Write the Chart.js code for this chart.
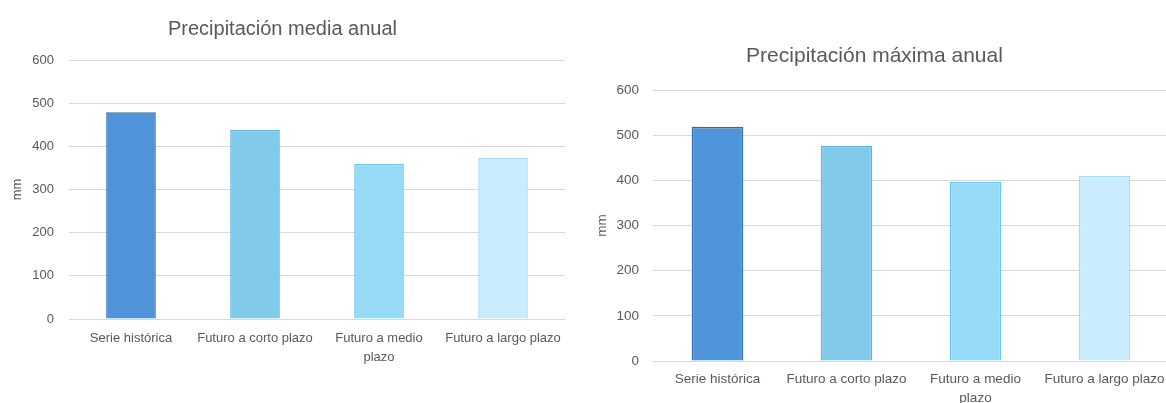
<!DOCTYPE html>
<html>
<head>
<meta charset="utf-8">
<script src="https://cdn.jsdelivr.net/npm/chart.js@4.4.1/dist/chart.umd.min.js"></script>
<style>
  html, body { margin:0; padding:0; background:#fff; overflow:hidden; }
  .box { position:absolute; top:0; height:403px; }
  #boxA { left:0; width:580px; }
  #boxB { left:580px; width:592px; }
</style>
</head>
<body>
<div class="box" id="boxA"><canvas id="chartA"></canvas></div>
<div class="box" id="boxB"><canvas id="chartB"></canvas></div>
<script>
// data
const categories = ['Serie histórica', 'Futuro a corto plazo', ['Futuro a medio', 'plazo'], 'Futuro a largo plazo'];
const mediaAnual  = [479, 438, 359, 373];
const maximaAnual = [519, 477, 397, 410];
const yTicks = [0, 100, 200, 300, 400, 500, 600];

const fills   = ['#4f94d8', '#82caea', '#98dbf6', '#c9edfc'];
const borders = ['#2f6dae', '#56b6e5', '#66c9f1', '#a3def7'];
const textCol = '#595959';
const gridCol = '#d9d9d9';
const FONT = '"Liberation Sans", Arial, sans-serif';

function makeChart(id, title, values, o){
  return new Chart(document.getElementById(id), {
    type: 'bar',
    data: {
      labels: categories,
      datasets: [{
        data: values,
        backgroundColor: fills,
        borderColor: borders,
        borderWidth: 1.5,
        barPercentage: 0.4,
        categoryPercentage: 1
      }]
    },
    options: {
      responsive: true, maintainAspectRatio: false, animation: false,
      layout: { padding: { left: 0, right: o.right, top: 0, bottom: 0 } },
      plugins: {
        legend: { display: false },
        tooltip: { enabled: false },
        title: {
          display: true, text: title, color: textCol,
          font: { family: FONT, size: o.titleSize, weight: 'normal', lineHeight: 1.2 },
          padding: { top: o.titleTop, bottom: o.titleBottom }
        }
      },
      scales: {
        x: {
          grid: { display: false },
          border: { display: false },
          ticks: {
            color: textCol, padding: o.xPad, autoSkip: false, maxRotation: 0,
            font: { family: FONT, size: o.tick, lineHeight: 1.45 }
          },
          afterFit: s => { s.height = o.xHeight; }
        },
        y: {
          min: 0, max: 600,
          afterBuildTicks: s => { s.ticks = yTicks.map(v => ({ value: v })); },
          grid: { color: gridCol, lineWidth: 1, drawTicks: false },
          border: { display: false },
          ticks: { color: textCol, padding: o.yPad, font: { family: FONT, size: o.tick } },
          title: {
            display: true, text: 'mm', color: textCol,
            font: { family: FONT, size: o.tick }, padding: { top: o.mmPad, bottom: 0 }
          },
          afterFit: s => { s.width = o.yWidth; }
        }
      }
    }
  });
}

makeChart('chartA', 'Precipitación media anual', mediaAnual, {
  right: 15, titleSize: 20, titleTop: 17, titleBottom: 19,
  tick: 13, xPad: 2, xHeight: 84, yPad: 15, mmPad: 10, yWidth: 69
});
makeChart('chartB', 'Precipitación máxima anual', maximaAnual, {
  right: 3, titleSize: 21, titleTop: 44, titleBottom: 21,
  tick: 13.5, xPad: 0, xHeight: 42, yPad: 14, mmPad: 14, yWidth: 73
});
</script>
</body>
</html>
